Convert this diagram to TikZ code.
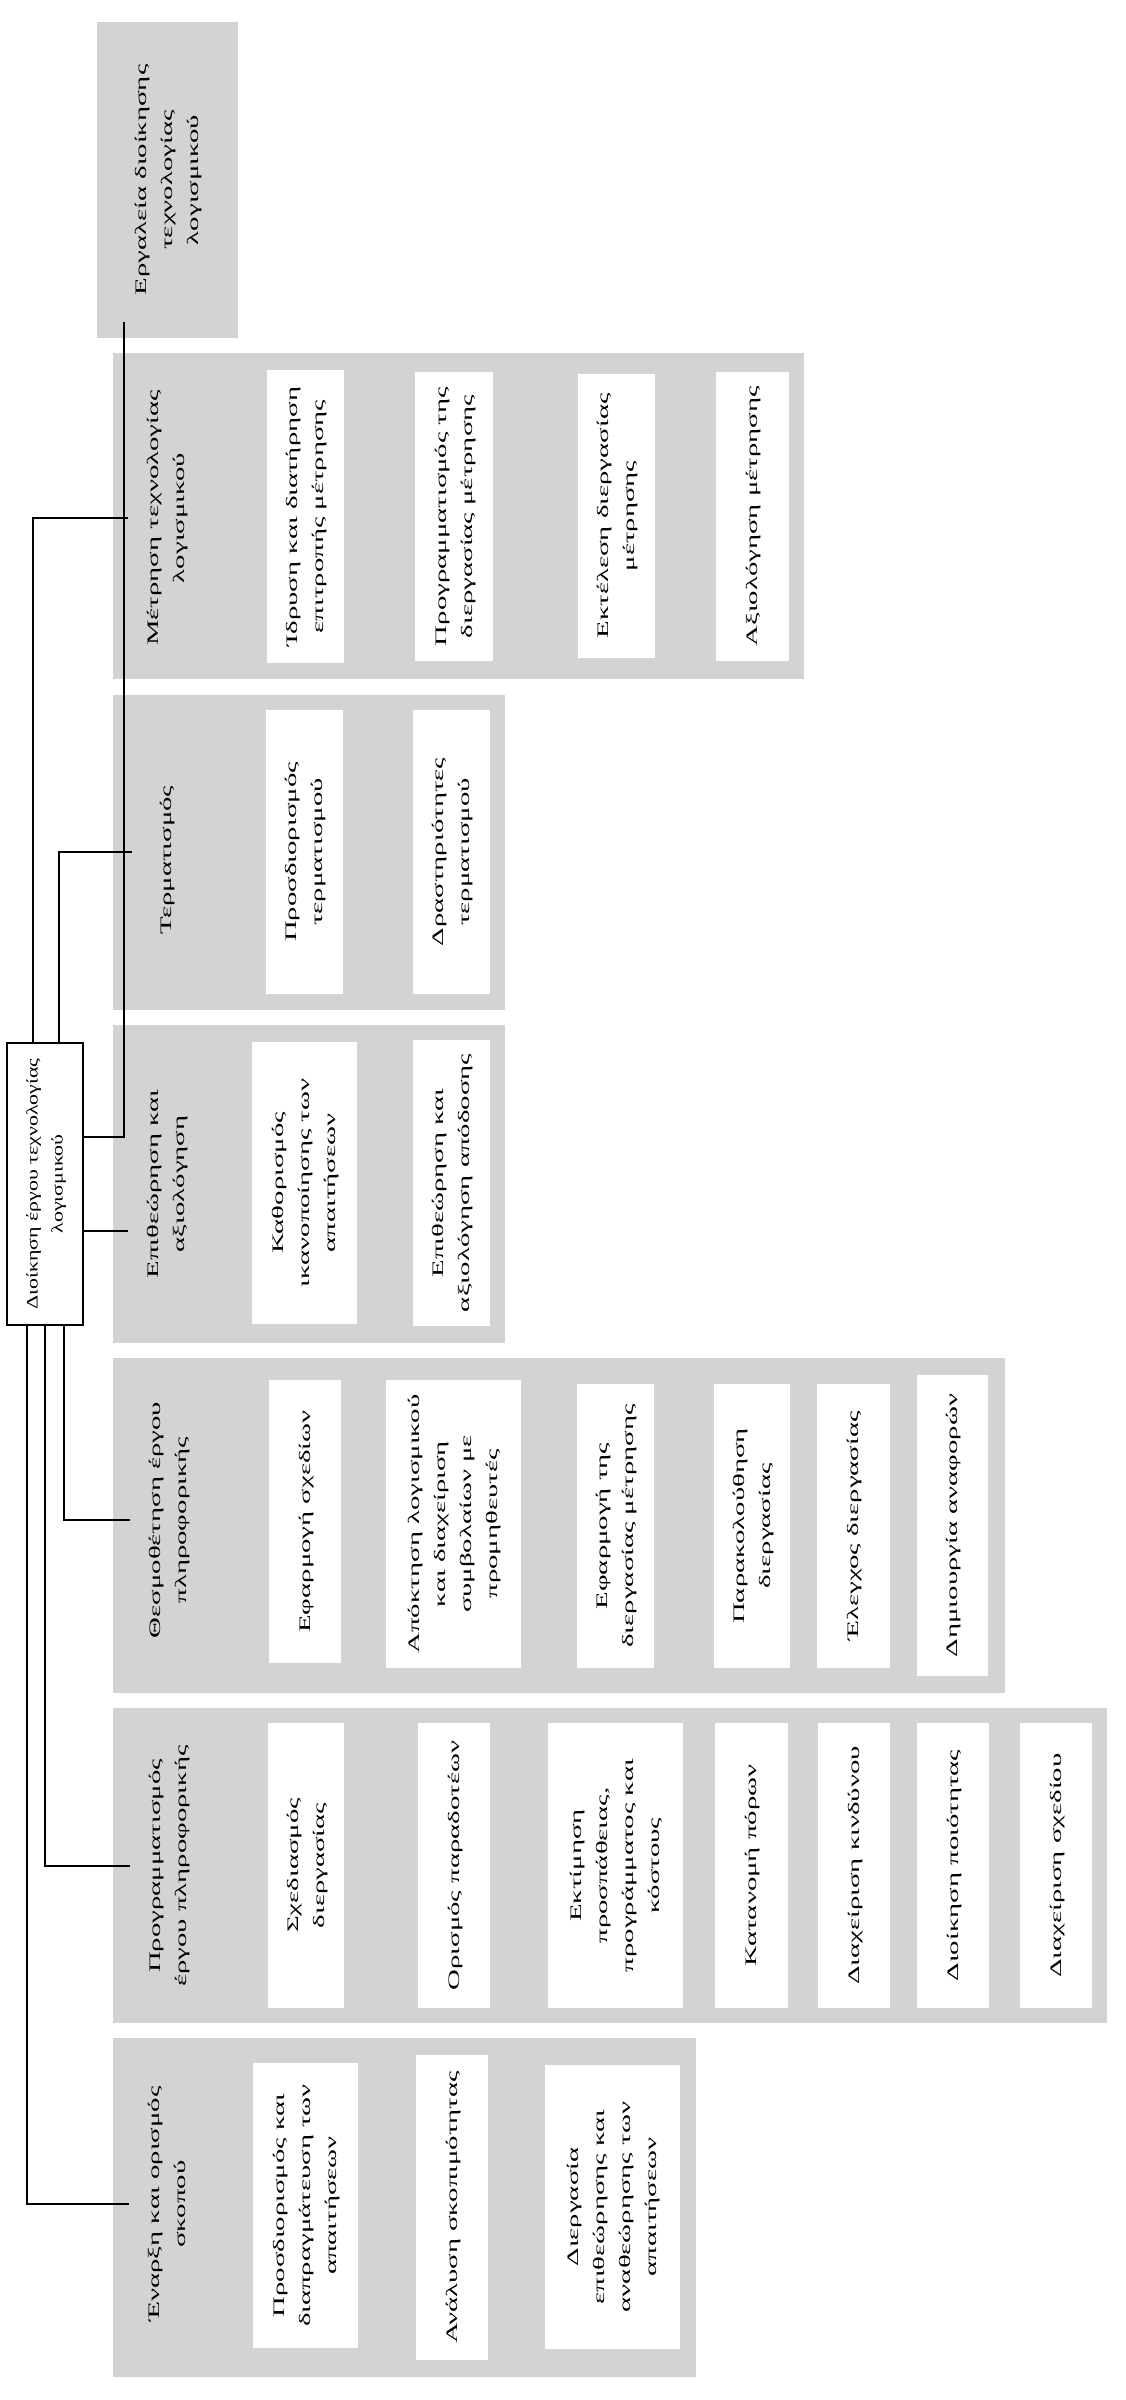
\documentclass[tikz,border=0pt]{standalone}
\usepackage{fontspec}
\usepackage{graphicx}
\setmainfont{Liberation Serif}
\definecolor{grpgray}{RGB}{211,211,211}
\newcommand\sx[1]{\scalebox{1.8}[1]{\begin{tabular}{@{}c@{}}#1\end{tabular}}}
\newcommand\sxroot[1]{\scalebox{1.37}[1]{\begin{tabular}{@{}c@{}}#1\end{tabular}}}
\tikzset{
  grpbox/.style={rotate=90, fill=grpgray, draw=none, inner sep=0pt},
  inbox/.style={rotate=90, fill=white, draw=none, inner sep=0pt, align=center, font=\fontsize{16}{26}\selectfont},
  lbl/.style={rotate=90, inner sep=0pt, align=center, minimum height=76pt, font=\fontsize{16}{26}\selectfont},
  rootbox/.style={rotate=90, fill=white, draw=black, line width=1.8pt, inner sep=0pt, align=center, font=\fontsize{16}{25}\selectfont},
  conn/.style={draw=black, line width=1.8pt},
}
\newcommand\mkbox[7]{\node[#1, minimum width={(#6-#4)*1pt}, minimum height={(#5-#3)*1pt}] (#2) at ({(#3+#5)/2},{(#4+#6)/2}) {#7};}
\begin{document}
\begin{tikzpicture}[x=1pt,y=-1pt]
\useasboundingbox[fill=white] (0,0) rectangle (1125,2400);
% tools box
\mkbox{grpbox}{erg}{97}{22}{238}{338}{}
\node[lbl] (erglab) at (167,180) {\sx{Εργαλεία διοίκησης\\τεχνολογίας\\λογισμικού}};
% groups
\mkbox{grpbox}{g1}{113}{353}{804}{679}{}
\mkbox{grpbox}{g2}{113}{695}{505}{1010}{}
\mkbox{grpbox}{g3}{113}{1025}{505}{1343}{}
\mkbox{grpbox}{g4}{113}{1358}{1005}{1693}{}
\mkbox{grpbox}{g5}{113}{1708}{1107}{2023}{}
\mkbox{grpbox}{g6}{113}{2038}{696}{2377}{}
% labels
\node[lbl] (lab1) at (166,518) {\sx{Μέτρηση τεχνολογίας\\λογισμικού}};
\node[lbl] (lab2) at (166,860) {\sx{Τερματισμός}};
\node[lbl] (lab3) at (166,1184) {\sx{Επιθεώρηση και\\αξιολόγηση}};
\node[lbl] (lab4) at (168,1520) {\sx{Θεσμοθέτηση έργου\\πληροφορικής}};
\node[lbl] (lab5) at (168,1866) {\sx{Προγραμματισμός\\έργου πληροφορικής}};
\node[lbl] (lab6) at (167,2204) {\sx{Έναρξη και ορισμός\\σκοπού}};
% group 1
\mkbox{inbox}{a1}{267}{370}{344}{663}{\sx{Ίδρυση και διατήρηση\\επιτροπής μέτρησης}}
\mkbox{inbox}{a2}{415}{372}{493}{661}{\sx{Προγραμματισμός της\\διεργασίας μέτρησης}}
\mkbox{inbox}{a3}{578}{374}{655}{658}{\sx{Εκτέλεση διεργασίας\\μέτρησης}}
\mkbox{inbox}{a4}{716}{372}{789}{661}{\sx{Αξιολόγηση μέτρησης}}
% group 2
\mkbox{inbox}{b1}{266}{710}{343}{994}{\sx{Προσδιορισμός\\τερματισμού}}
\mkbox{inbox}{b2}{413}{710}{490}{994}{\sx{Δραστηριότητες\\τερματισμού}}
% group 3
\mkbox{inbox}{c1}{252}{1042}{357}{1324}{\sx{Καθορισμός\\ικανοποίησης των\\απαιτήσεων}}
\mkbox{inbox}{c2}{413}{1040}{490}{1326}{\sx{Επιθεώρηση και\\αξιολόγηση απόδοσης}}
% group 4
\mkbox{inbox}{d1}{269}{1380}{341}{1663}{\sx{Εφαρμογή σχεδίων}}
\mkbox{inbox}{d2}{386}{1380}{521}{1668}{\sx{Απόκτηση λογισμικού\\και διαχείριση\\συμβολαίων με\\προμηθευτές}}
\mkbox{inbox}{d3}{577}{1384}{654}{1668}{\sx{Εφαρμογή της\\διεργασίας μέτρησης}}
\mkbox{inbox}{d4}{714}{1384}{790}{1668}{\sx{Παρακολούθηση\\διεργασίας}}
\mkbox{inbox}{d5}{817}{1384}{890}{1668}{\sx{Έλεγχος διεργασίας}}
\mkbox{inbox}{d6}{917}{1375}{988}{1676}{\sx{Δημιουργία αναφορών}}
% group 5
\mkbox{inbox}{e1}{268}{1723}{344}{2008}{\sx{Σχεδιασμός\\διεργασίας}}
\mkbox{inbox}{e2}{418}{1723}{490}{2008}{\sx{Ορισμός παραδοτέων}}
\mkbox{inbox}{e3}{548}{1723}{683}{2008}{\sx{Εκτίμηση\\προσπάθειας,\\προγράμματος και\\κόστους}}
\mkbox{inbox}{e4}{715}{1723}{788}{2008}{\sx{Κατανομή πόρων}}
\mkbox{inbox}{e5}{818}{1723}{890}{2008}{\sx{Διαχείριση κινδύνου}}
\mkbox{inbox}{e6}{917}{1723}{989}{2008}{\sx{Διοίκηση ποιότητας}}
\mkbox{inbox}{e7}{1020}{1723}{1092}{2008}{\sx{Διαχείριση σχεδίου}}
% group 6
\mkbox{inbox}{f1}{253}{2063}{358}{2348}{\sx{Προσδιορισμός και\\διαπραγμάτευση των\\απαιτήσεων}}
\mkbox{inbox}{f2}{416}{2055}{488}{2360}{\sx{Ανάλυση σκοπιμότητας}}
\mkbox{inbox}{f3}{545}{2065}{680}{2349}{\sx{Διεργασία\\επιθεώρησης και\\αναθεώρησης των\\απαιτήσεων}}
% root
\mkbox{rootbox}{root}{7}{1043}{83}{1325}{\sxroot{Διοίκηση έργου τεχνολογίας\\λογισμικού}}
% connector anchor points on the root
\coordinate (t1) at (33,1043);
\coordinate (t2) at (59,1043);
\coordinate (r1) at (83,1137);
\coordinate (r2) at (83,1231);
\coordinate (s1) at (27,1325);
\coordinate (s2) at (45,1325);
\coordinate (s3) at (64,1325);
\coordinate (ergend) at (124,322);
\coordinate (tend) at (132,852);
% connectors
\draw[conn] (t1) |- (lab1.north);
\draw[conn] (t2) |- (tend);
\draw[conn] (r1) -| (ergend);
\draw[conn] (r2) -- (r2 -| lab3.north);
\draw[conn] (s3) |- (lab4.north);
\draw[conn] (s2) |- (lab5.north);
\draw[conn] (s1) |- (lab6.north);
\end{tikzpicture}
\end{document}
